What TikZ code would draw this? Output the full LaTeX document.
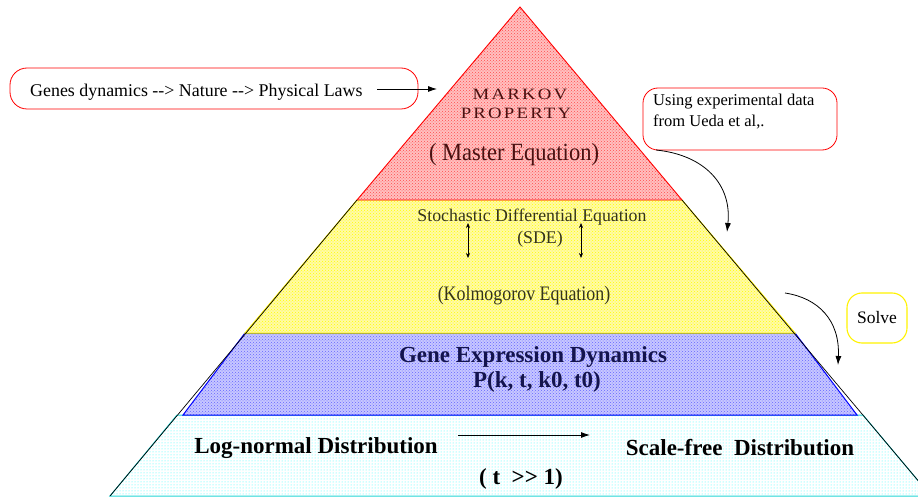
\documentclass[tikz,border=0pt]{standalone}
\usepackage{fontspec}
\setmainfont{Liberation Serif}
\usetikzlibrary{patterns,arrows.meta}
\newcommand{\fsz}[2]{\fontsize{#1}{#2}\selectfont}
\definecolor{markovc}{HTML}{4A1010}
\definecolor{olivec}{HTML}{34341A}
\definecolor{navyc}{HTML}{14144E}
\definecolor{olivel}{HTML}{B4B43C}
\definecolor{cyanl}{HTML}{22D6D6}
\tikzset{
  redband/.style={draw=red, line width=0.9pt, preaction={fill=red!25}, pattern=crosshatch dots, pattern color=red!70},
  yelband/.style={draw=yellow, line width=1pt, preaction={fill=yellow!35}, pattern=crosshatch dots, pattern color=yellow},
  bluband/.style={draw=blue, line width=1pt, preaction={fill=blue!22}, pattern=crosshatch dots, pattern color=blue!60},
  cyaband/.style={draw=cyanl, line width=1pt, preaction={fill=white}, pattern=dots, pattern color=cyan!80},
  pbox/.style={draw=red, line width=0.8pt, rounded corners=17pt},
  sbox/.style={draw=yellow, line width=1.1pt, rounded corners=15pt},
  arr/.style={-{Latex[length=9pt,width=6pt]}, line width=0.8pt, black},
  darr/.style={{Stealth[length=5pt,width=4pt]}-{Stealth[length=5pt,width=4pt]}, line width=0.6pt, black},
  lbl/.style={inner sep=0pt, anchor=center},
}
\begin{document}
\begin{tikzpicture}[x=1pt,y=-1pt]
\useasboundingbox (0,0) rectangle (918,497);
\begin{scope}
\clip (0,0) rectangle (918,497);
% bands
\path[cyaband] (110,496) -- (177,415) -- (863,415) -- (931,496) -- cycle;
\path[bluband] (183,415) -- (245,333) -- (795,333) -- (857,415) -- cycle;
\path[yelband] (245,333) -- (357,200) -- (682,200) -- (795,333) -- cycle;
\draw[olivel, line width=1pt] (245,333) -- (795,333);
\path[redband] (357,200) -- (520,7) -- (682,200) -- cycle;
% black outline
\draw[black, line width=0.7pt] (357,200) -- (110,496);
\draw[black, line width=0.7pt] (682,200) -- (931,496);
\end{scope}

% texts in pyramid
\node[lbl, text=markovc] (markov) at (520,94) {\scalebox{1.25}[1.05]{\fsz{15}{15}\addfontfeature{LetterSpace=12}MARKOV}};
\node[lbl, text=markovc] (property) at (516,113) {\scalebox{1.25}[1.05]{\fsz{15}{15}\addfontfeature{LetterSpace=12}PROPERTY}};
\node[lbl, text=markovc] (master) at (514,155) {\scalebox{1}[1.1]{\fsz{22.5}{24}( Master Equation)}};
\node[lbl, text=olivec] (sde1) at (532,217) {\fsz{17.8}{20}Stochastic Differential Equation};
\node[lbl, text=olivec] (sde2) at (540,239) {\fsz{17.8}{20}(SDE)};
\node[lbl, text=olivec] (kolmo) at (524,296) {\scalebox{1}[1.15]{\fsz{17.9}{22}(Kolmogorov Equation)}};
\node[lbl, text=navyc] (ged) at (533,357) {\fsz{23}{25}\bfseries Gene Expression Dynamics};
\node[lbl, text=navyc] (pk) at (537,382) {\fsz{23}{25}\bfseries P(k, t, k0, t0)};
\node[lbl] (logn) at (316,448) {\fsz{23}{25}\bfseries Log-normal Distribution};
\node[lbl] (scalef) at (740,448) {\fsz{23}{25}\bfseries Scale-free~~Distribution};
\node[lbl] (tgg) at (521,479) {\fsz{23}{25}\bfseries ( t~~>{}> 1)};

% double arrows
\coordinate (d1a) at (468,223); \coordinate (d1b) at (468,258);
\coordinate (d2a) at (581,223); \coordinate (d2b) at (581,258);
\draw[darr] (d1a) -- (d1b);
\draw[darr] (d2a) -- (d2b);

% bottom arrow
\coordinate (ba1) at (458,435); \coordinate (ba2) at (590,435);
\draw[arr, line width=0.9pt] (ba1) -- (ba2);

% left box
\draw[pbox] (10,68) rectangle (418,109);
\node[lbl, anchor=west] (genes) at (30,92) {\fsz{17.9}{20}Genes dynamics -{}-{}> Nature -{}-{}> Physical Laws};
\coordinate (ga1) at (377,89); \coordinate (ga2) at (437,89);
\draw[arr] (ga1) -- (ga2);

% right box
\draw[pbox, rounded corners=15pt] (643,88) rectangle (837,150);
\node[lbl, anchor=north west, align=left, font=\fsz{16.5}{21}] (ueda) at (653,94) {Using experimental data\\from Ueda et al,.};
\coordinate (ua1) at (656,150); \coordinate (ua2) at (727,232);
\draw[arr] (ua1) .. controls (705,155) and (732,185) .. (ua2);

% solve box
\draw[sbox] (847,293) rectangle (907,343);
\node[lbl] (solve) at (877,318) {\fsz{17.5}{20}Solve};
\coordinate (sa1) at (785,293); \coordinate (sa2) at (838,365);
\draw[arr] (sa1) .. controls (818,298) and (840,320) .. (sa2);
\end{tikzpicture}
\end{document}
